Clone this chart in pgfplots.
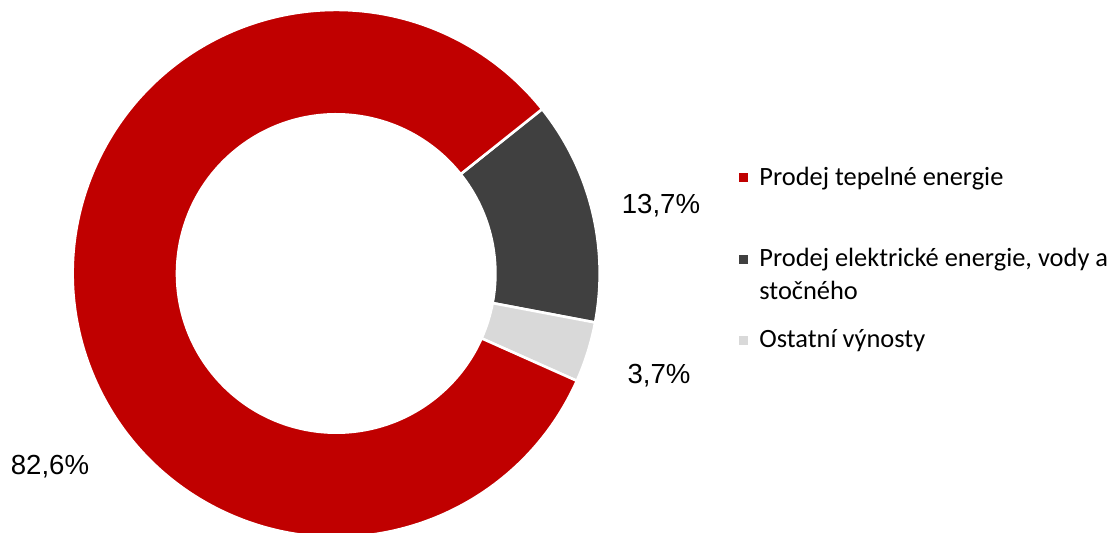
\documentclass[border=0pt]{standalone}
\usepackage{pgfplots}
\pgfplotsset{compat=1.18}
\usepackage{pgfplotstable}
\usepackage{fontspec}
\setmainfont{Carlito}
\newfontfamily\arial{Liberation Sans}
\definecolor{cred}{HTML}{C00000}
\definecolor{cdark}{HTML}{404040}
\definecolor{clight}{HTML}{D9D9D9}
\pgfplotstableread{
share
82.6
13.7
3.7
}\shares
\begin{document}
\begin{tikzpicture}
\pgfplotstablegetelem{0}{share}\of\shares \let\va\pgfplotsretval
\pgfplotstablegetelem{1}{share}\of\shares \let\vb\pgfplotsretval
\pgfplotstablegetelem{2}{share}\of\shares \let\vc\pgfplotsretval
\pgfmathsetmacro{\aA}{38.6}
\pgfmathsetmacro{\aB}{\aA-\vb*3.6}
\pgfmathsetmacro{\aC}{\aB-\vc*3.6}
\pgfmathsetmacro{\aD}{\aC-\va*3.6}
\def\Rx{131.75pt}\def\Ry{131.75pt}
\def\rx{79.6pt}\def\ry{79.6pt}
\begin{axis}[x=0.5pt,y=0.5pt,xmin=0,xmax=1118,ymin=0,ymax=533,
  hide axis,clip=false,scale only axis]
\coordinate (BL) at (axis cs:0,0);
\coordinate (TR) at (axis cs:1118,533);
\coordinate (C) at (axis cs:336.2,259.5);
% dark slice
\filldraw[fill=cdark,draw=white,line width=1.3pt]
  ([shift={(canvas polar cs:angle=\aA,x radius=\Rx,y radius=\Ry)}]C) arc[start angle=\aA,end angle=\aB,x radius=\Rx,y radius=\Ry]
  -- ([shift={(canvas polar cs:angle=\aB,x radius=\rx,y radius=\ry)}]C) arc[start angle=\aB,end angle=\aA,x radius=\rx,y radius=\ry] -- cycle;
% light slice
\filldraw[fill=clight,draw=white,line width=1.3pt]
  ([shift={(canvas polar cs:angle=\aB,x radius=\Rx,y radius=\Ry)}]C) arc[start angle=\aB,end angle=\aC,x radius=\Rx,y radius=\Ry]
  -- ([shift={(canvas polar cs:angle=\aC,x radius=\rx,y radius=\ry)}]C) arc[start angle=\aC,end angle=\aB,x radius=\rx,y radius=\ry] -- cycle;
% red slice
\filldraw[fill=cred,draw=white,line width=1.3pt]
  ([shift={(canvas polar cs:angle=\aC,x radius=\Rx,y radius=\Ry)}]C) arc[start angle=\aC,end angle=\aD,x radius=\Rx,y radius=\Ry]
  -- ([shift={(canvas polar cs:angle=\aD,x radius=\rx,y radius=\ry)}]C) arc[start angle=\aD,end angle=\aC,x radius=\rx,y radius=\ry] -- cycle;
% labels
\node[font=\arial\fontsize{13.8}{16}\selectfont] at (axis cs:661,327) {13,7\%};
\node[font=\arial\fontsize{13.8}{16}\selectfont] at (axis cs:659,157) {3,7\%};
\node[font=\arial\fontsize{13.8}{16}\selectfont] at (axis cs:50,66.7) {82,6\%};
% legend
\fill[cred] (axis cs:739,350.5) rectangle (axis cs:748,359.5);
\fill[cdark] (axis cs:739,269) rectangle (axis cs:748,278);
\fill[clight] (axis cs:739,187.8) rectangle (axis cs:748,196.8);
\node[anchor=base west,inner sep=0,font=\fontsize{13.2}{15}\selectfont] at (axis cs:759,347) {Prodej tepelné energie};
\node[anchor=base west,inner sep=0,font=\fontsize{13.2}{15}\selectfont] at (axis cs:759,266.5) {Prodej elektrické energie, vody a};
\node[anchor=base west,inner sep=0,font=\fontsize{13.2}{15}\selectfont] at (axis cs:759,233.5) {stočného};
\node[anchor=base west,inner sep=0,font=\fontsize{13.2}{15}\selectfont] at (axis cs:759,185.5) {Ostatní výnosty};
\end{axis}
\pgfresetboundingbox
\path[use as bounding box] (BL) rectangle (TR);
\end{tikzpicture}
\end{document}
